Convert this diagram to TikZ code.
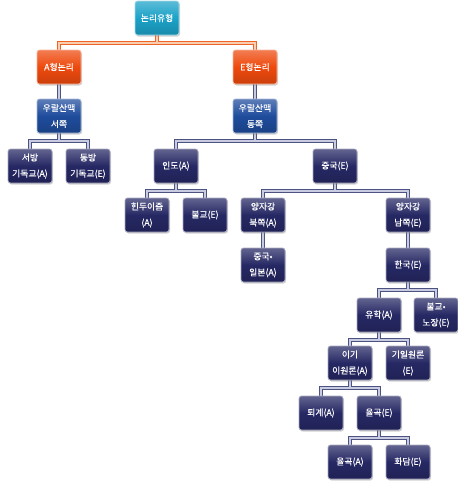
\documentclass[tikz,border=0pt]{standalone}
\usepackage{fontspec}
\newfontfamily\kr[FakeBold=0.35]{Noto Sans CJK KR}
\usetikzlibrary{backgrounds,shadows}
\definecolor{navy}{HTML}{262864}
\definecolor{tealbox}{HTML}{1CA2C8}
\definecolor{orangebox}{HTML}{EE4A0E}
\definecolor{bluebox}{HTML}{1F4C9C}
\definecolor{connout}{HTML}{4C5282}
\definecolor{connin}{HTML}{C9CCE0}
\definecolor{orout}{HTML}{EE6426}
\definecolor{orin}{HTML}{F9CDB0}
\begin{document}
\begin{tikzpicture}[x=1pt,y=-1pt,
  box/.style={rounded corners=2.5pt, minimum width=44pt, minimum height=34pt,
    inner sep=0pt, align=center, text=white,
    font=\kr\fontsize{8.8}{16}\selectfont, line width=0.8pt,
    draw=#1!40!white, top color=#1!72!white, bottom color=#1!85!black,
    middle color=#1,
    drop shadow={opacity=0.35, shadow xshift=1pt, shadow yshift=-1.5pt}},
  box/.default=navy,
  darkline/.style={draw=connout, line width=3.6pt},
  lightline/.style={draw=connin, line width=1.3pt},
  odark/.style={draw=orout, line width=3.6pt},
  olight/.style={draw=orin, line width=1.3pt}]
\useasboundingbox (0,0) rectangle (458,485);
\node[box=tealbox] (t) at (157,18) {논리유형};
\node[box=orangebox] (a) at (59,67) {A형논리};
\node[box=orangebox] (e) at (255,67) {E형논리};
\node[box=bluebox] (w) at (59,116) {우랄산맥\\서쪽};
\node[box=bluebox] (eu) at (255,116) {우랄산맥\\동쪽};
\node[box] (wc) at (30,166) {서방\\기독교(A)};
\node[box] (ec) at (88,166) {동방\\기독교(E)};
\node[box] (in) at (176,166) {인도(A)};
\node[box] (cn) at (335,166) {중국(E)};
\node[box] (hi) at (147,215) {힌두이즘\\(A)};
\node[box] (bu) at (205,215) {불교(E)};
\node[box] (yn) at (263,215) {양자강\\북쪽(A)};
\node[box] (ys) at (408,215) {양자강\\남쪽(E)};
\node[box] (cj) at (263,265) {중국•\\일본(A)};
\node[box] (ko) at (408,265) {한국(E)};
\node[box] (yu) at (379,315) {유학(A)};
\node[box] (bn) at (436,315) {불교•\\노장(E)};
\node[box] (ig) at (350,363) {이기\\이원론(A)};
\node[box] (gi) at (408,363) {기일원론\\(E)};
\node[box] (tg) at (321,413) {퇴계(A)};
\node[box] (yg) at (379,413) {율곡(E)};
\node[box] (ya) at (350,462) {율곡(A)};
\node[box] (hd) at (408,462) {화담(E)};
\begin{pgfonlayer}{background}
  \foreach \s in {odark,olight}
    \foreach \p/\c in {t/a,t/e}
      \draw[\s] (\p.south) -- ++(0,7.5) -| (\c.north);
  \foreach \s in {darkline,lightline}
    \foreach \p/\c in {a/w,e/eu,w/wc,w/ec,eu/in,eu/cn,in/hi,in/bu,cn/yn,cn/ys,
                       yn/cj,ys/ko,ko/yu,ko/bn,yu/ig,yu/gi,ig/tg,ig/yg,yg/ya,yg/hd}
      \draw[\s] (\p.south) -- ++(0,7.5) -| (\c.north);
\end{pgfonlayer}
\end{tikzpicture}
\end{document}
